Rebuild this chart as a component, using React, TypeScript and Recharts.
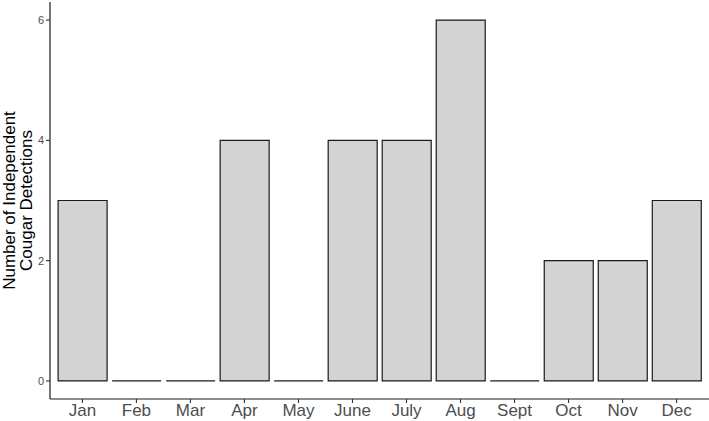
import { Bar, BarChart, Label, XAxis, YAxis } from 'recharts'

const months = ['Jan', 'Feb', 'Mar', 'Apr', 'May', 'June', 'July', 'Aug', 'Sept', 'Oct', 'Nov', 'Dec']
const detections = [3, 0, 0, 4, 0, 4, 4, 6, 0, 2, 2, 3]
const yTicks = [0, 2, 4, 6]

const data = months.map((month, i) => ({ month, count: detections[i] }))

// zero-count months still get an outline, drawn as a flat line on the baseline
function OutlinedBar(props: any) {
  const { x, y, width, height } = props
  const d = `M${x},${y}h${width}v${height}h${-width}Z`
  return <path d={d} fill="#d3d3d3" stroke="#1a1a1a" strokeWidth={1.2} />
}

function YTitle(props: any) {
  const cy = 200.5
  const x = 14.5
  return (
    <text
      transform={`rotate(-90, ${x}, ${cy})`}
      x={x}
      y={cy}
      textAnchor="middle"
      fontSize={17}
      fill="#000"
      fontFamily="Liberation Sans, Arial, sans-serif"
    >
      <tspan x={x} dy={0}>Number of Independent</tspan>
      <tspan x={x} dy={17.5}>Cougar Detections</tspan>
    </text>
  )
}

export default function App() {
  return (
    <div style={{ position: 'absolute', left: 0, top: 0, background: '#fff' }}>
      <BarChart
        width={709}
        height={421}
        data={data}
        margin={{ top: 2, right: 0, left: 0, bottom: 0 }}
        barCategoryGap="5%"
        style={{ fontFamily: 'Liberation Sans, Arial, sans-serif' }}
      >
        <XAxis
          dataKey="month"
          height={22}
          padding={{ left: 5.4, right: 5.4 }}
          tickSize={4}
          tickMargin={1}
          tick={{ fontSize: 17, fill: '#4d4d4d' }}
          axisLine={{ stroke: '#1a1a1a', strokeWidth: 1.2 }}
          tickLine={{ stroke: '#333', strokeWidth: 1.1 }}
          interval={0}
        />
        <YAxis
          type="number"
          width={50}
          domain={[-0.3, 6.3]}
          ticks={yTicks}
          tickSize={4}
          tickMargin={2}
          tick={{ fontSize: 11, fill: '#4d4d4d' }}
          axisLine={{ stroke: '#1a1a1a', strokeWidth: 1.2 }}
          tickLine={{ stroke: '#333', strokeWidth: 1.1 }}
        >
          <Label content={<YTitle />} />
        </YAxis>
        <Bar dataKey="count" shape={<OutlinedBar />} isAnimationActive={false} />
      </BarChart>
    </div>
  )
}
